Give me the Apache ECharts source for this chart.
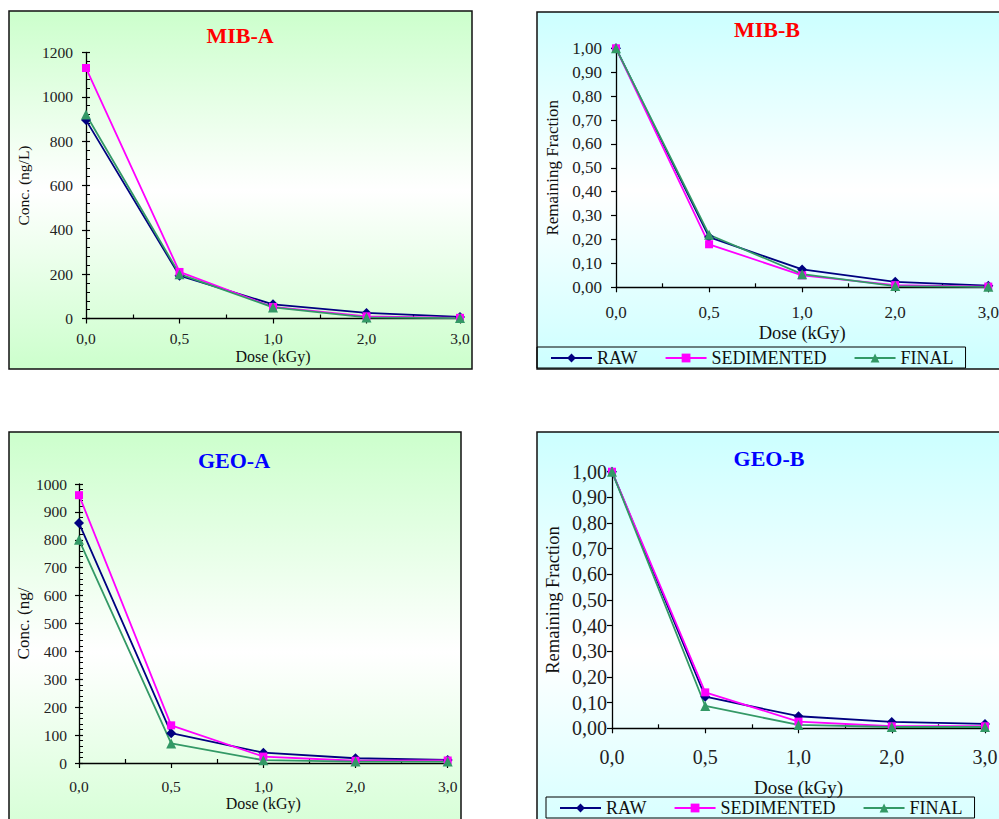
<!DOCTYPE html>
<html>
<head>
<meta charset="utf-8">
<script src="https://cdn.jsdelivr.net/npm/echarts@6/dist/echarts.min.js"></script>
<style>
html,body{margin:0;padding:0;background:#fff;}
#chart{width:999px;height:819px;}
</style>
</head>
<body>
<div id="chart"></div>
<script>
// ---------- DATA ----------
const categories = ['0,0', '0,5', '1,0', '2,0', '3,0'];
const seriesNames = ['RAW', 'SEDIMENTED', 'FINAL'];

const mibA_raw   = [895, 193, 64, 25, 7];
const mibA_sed   = [1130, 210, 52, 10, 3];
const mibA_final = [920, 200, 50, 5, 2];

const mibB_raw   = [1.00, 0.21, 0.075, 0.023, 0.007];
const mibB_sed   = [1.00, 0.18, 0.05, 0.009, 0.003];
const mibB_final = [1.00, 0.22, 0.055, 0.005, 0.002];

const geoA_raw   = [860, 107, 37, 17, 11];
const geoA_sed   = [960, 135, 23, 8, 9];
const geoA_final = [800, 70, 10, 5, 5];

const geoB_raw   = [1.00, 0.123, 0.047, 0.025, 0.017];
const geoB_sed   = [1.00, 0.14, 0.026, 0.008, 0.008];
const geoB_final = [1.00, 0.087, 0.013, 0.005, 0.005];

const concTicksMIB = ['0', '200', '400', '600', '800', '1000', '1200'];
const concTicksGEO = ['0', '100', '200', '300', '400', '500', '600', '700', '800', '900', '1000'];
const fracTicks = ['0,00', '0,10', '0,20', '0,30', '0,40', '0,50', '0,60', '0,70', '0,80', '0,90', '1,00'];

// ---------- STYLE / LAYOUT ----------
const SERIF = "'Liberation Serif', 'Times New Roman', serif";
const colors = ['#000080', '#ff00ff', '#339966'];
const symbols = ['diamond', 'rect', 'triangle'];
const symbolSizes = [10, 8, 10];

const panels = [
  {
    title: 'MIB-A', titleColor: '#ff0000', titleX: 240, titleY: 35,
    box: [9, 11, 463, 358], bg: '#ccffcc',
    grid: {left: 86, top: 52.5, width: 374, height: 266},
    yMax: 1200, yInterval: 200, yTicks: concTicksMIB, kind: 'A',
    yName: 'Conc. (ng/L)', yNameGap: 55, yNameSize: 15.5,
    xNameGap: 29.5, xNameSize: 16,
    tickFont: 15.5, xLabelMargin: 12, yLabelMargin: 13,
    data: [mibA_raw, mibA_sed, mibA_final]
  },
  {
    title: 'MIB-B', titleColor: '#ff0000', titleX: 767, titleY: 29,
    box: [537, 12, 480, 357], bg: '#ccffff',
    grid: {left: 616, top: 48.3, width: 372.3, height: 239},
    yMax: 1, yInterval: 0.1, yTicks: fracTicks, kind: 'B',
    yName: 'Remaining Fraction', yNameGap: 55, yNameSize: 17,
    xNameGap: 36, xNameSize: 18.5,
    tickFont: 17, xLabelMargin: 17, yLabelMargin: 14,
    data: [mibB_raw, mibB_sed, mibB_final],
    legend: {left: 537, top: 347}
  },
  {
    title: 'GEO-A', titleColor: '#0000ff', titleX: 234, titleY: 460,
    box: [9, 432, 452, 440], bg: '#ccffcc',
    grid: {left: 79, top: 484, width: 368.7, height: 279},
    yMax: 1000, yInterval: 100, yTicks: concTicksGEO, kind: 'A',
    yName: 'Conc. (ng/', yNameGap: 47, yNameSize: 17,
    xNameGap: 32, xNameSize: 16,
    tickFont: 15.5, xLabelMargin: 15, yLabelMargin: 12,
    data: [geoA_raw, geoA_sed, geoA_final]
  },
  {
    title: 'GEO-B', titleColor: '#0000ff', titleX: 769, titleY: 458,
    box: [537, 432, 480, 440], bg: '#ccffff',
    grid: {left: 612, top: 471.7, width: 373, height: 256.6},
    yMax: 1, yInterval: 0.1, yTicks: fracTicks, kind: 'B',
    yName: 'Remaining Fraction', yNameGap: 50, yNameSize: 18.5,
    xNameGap: 50, xNameSize: 19,
    tickFont: 20, xLabelMargin: 19, yLabelMargin: 5,
    data: [geoB_raw, geoB_sed, geoB_final],
    legend: {left: 546, top: 797}
  }
];

// ---------- BUILD ----------
const grids = [], xAxes = [], yAxes = [], series = [], graphics = [], legends = [];

panels.forEach((p, pi) => {
  graphics.push({
    type: 'rect', z: -10, silent: true,
    shape: {x: p.box[0], y: p.box[1], width: p.box[2], height: p.box[3]},
    style: {
      fill: {type: 'linear', x: 0, y: 0, x2: 0, y2: 1, colorStops: [
        {offset: 0, color: p.bg}, {offset: 0.5, color: '#ffffff'}, {offset: 1, color: p.bg}
      ]},
      stroke: '#111', lineWidth: 1.5
    }
  });
  graphics.push({
    type: 'text', z: 10, x: p.titleX, y: p.titleY,
    style: {text: p.title, fill: p.titleColor, font: 'bold 22px ' + SERIF, textAlign: 'center', textVerticalAlign: 'middle'}
  });

  grids.push(Object.assign({show: false, outerBoundsMode: 'none', containLabel: false}, p.grid));
  const gi = grids.length - 1;

  const xMain = xAxes.length;
  xAxes.push({
    type: 'category', gridIndex: gi, data: categories, boundaryGap: false, position: 'bottom',
    axisLine: {onZero: false, lineStyle: {color: '#000', width: 1.3}},
    axisTick: {show: true, inside: false, length: 5, lineStyle: {color: '#000', width: 1.2}},
    axisLabel: {color: '#222', fontFamily: SERIF, fontSize: p.tickFont, margin: p.xLabelMargin, showMinLabel: true, showMaxLabel: true, interval: 0},
    splitLine: {show: false},
    name: 'Dose (kGy)', nameLocation: 'middle', nameGap: p.xNameGap, nameMoveOverlap: false,
    nameTextStyle: {color: '#111', fontFamily: SERIF, fontSize: p.xNameSize}
  });
  xAxes.push({
    type: 'value', gridIndex: gi, min: 0, max: 4, interval: 1, position: 'bottom',
    axisLine: {show: false, onZero: false},
    axisTick: {show: false, inside: true},
    minorTick: {show: true, splitNumber: 2, length: 4, lineStyle: {color: '#000', width: 1.2}},
    axisLabel: {show: false}, splitLine: {show: false}, minorSplitLine: {show: false}
  });

  const yMain = yAxes.length;
  const ticks = p.yTicks;
  yAxes.push({
    type: 'value', gridIndex: gi, min: 0, max: p.yMax, interval: p.yInterval, position: 'left',
    axisLine: {show: true, onZero: false, lineStyle: {color: '#000', width: 1.3}},
    axisTick: {show: true, inside: false, length: p.kind === 'A' ? 4 : 5, lineStyle: {color: '#000', width: 1.2}},
    axisLabel: {
      color: '#222', fontFamily: SERIF, fontSize: p.tickFont, margin: p.yLabelMargin,
      formatter: v => ticks[Math.round(v / p.yInterval)]
    },
    splitLine: {show: false},
    name: p.yName, nameLocation: 'middle', nameGap: p.yNameGap, nameMoveOverlap: false,
    nameTextStyle: {color: '#111', fontFamily: SERIF, fontSize: p.yNameSize}
  });
  if (p.kind === 'A') {
    yAxes.push({
      type: 'value', gridIndex: gi, min: 0, max: p.yMax, interval: p.yInterval, position: 'left',
      axisLine: {show: false, onZero: false},
      axisTick: {show: true, inside: true, length: 4, lineStyle: {color: '#000', width: 1.2}},
      minorTick: {show: true, splitNumber: 5, length: 4, lineStyle: {color: '#000', width: 1}},
      axisLabel: {show: false}, splitLine: {show: false}, minorSplitLine: {show: false}
    });
  }

  p.data.forEach((arr, si) => {
    series.push({
      type: 'line', name: seriesNames[si], xAxisIndex: xMain, yAxisIndex: yMain,
      data: arr, clip: false,
      symbol: symbols[si], symbolSize: symbolSizes[si], showAllSymbol: true,
      lineStyle: {color: colors[si], width: 1.8},
      itemStyle: {color: colors[si]},
      emphasis: {disabled: true}, animation: false
    });
  });

  if (p.legend) {
    legends.push({
      left: p.legend.left, top: p.legend.top, orient: 'horizontal',
      data: seriesNames, itemWidth: 41, itemHeight: 11, itemGap: 27,
      padding: [2, 12, 1, 13], borderColor: '#000', borderWidth: 1, backgroundColor: '#fff0',
      textStyle: {color: '#111', fontFamily: SERIF, fontSize: 18, padding: [1, 0, 0, 0]},
      selectedMode: false
    });
  }
});

const chart = echarts.init(document.getElementById('chart'), null, {renderer: 'svg', width: 999, height: 819});
chart.setOption({
  animation: false,
  backgroundColor: '#ffffff',
  grid: grids, xAxis: xAxes, yAxis: yAxes, series: series,
  legend: legends, graphic: graphics,
  tooltip: {show: false}
});
</script>
</body>
</html>
